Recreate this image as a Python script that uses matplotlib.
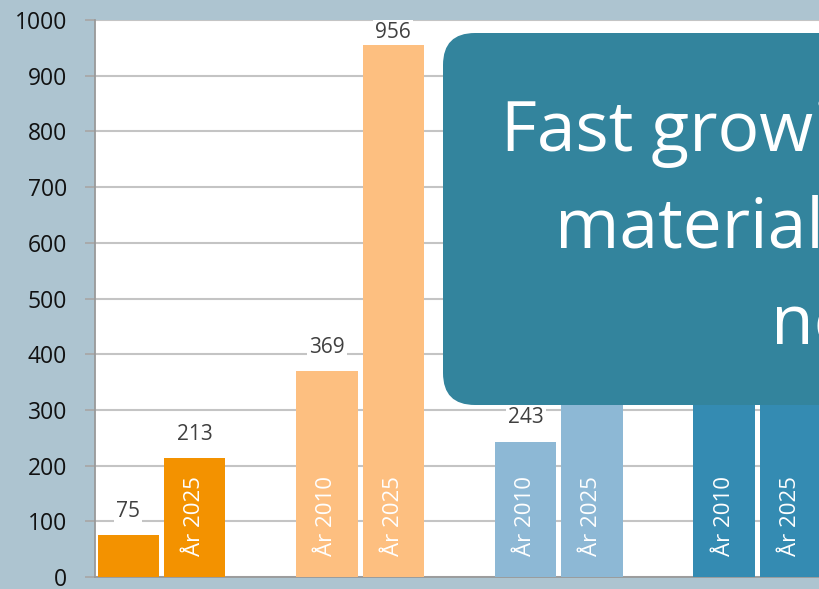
import numpy as np
import matplotlib.pyplot as plt
from matplotlib.patches import FancyBboxPatch

plt.rcParams['font.family'] = ['Open Sans', 'DejaVu Sans']

# data (last two groups are mostly hidden behind the callout box, estimated)
groups = ['Grupp 1', 'Grupp 2', 'Grupp 3', 'Grupp 4']
years = ['År 2010', 'År 2025']
values_2010 = [75, 369, 243, 430]
values_2025 = [213, 956, 560, 760]
group_colors = ['#f39200', '#fdbf80', '#8db8d5', '#348bb2']
yticks = [0, 100, 200, 300, 400, 500, 600, 700, 800, 900, 1000]

callout_lines = ['Fast growing', 'materials', 'need']

BG = '#adc4d0'

fig = plt.figure(figsize=(8.19, 5.89), dpi=100, facecolor=BG)
ax = fig.add_axes([95/819, 12/589, 1 - 95/819, 557/589])
ax.set_facecolor('white')

x = np.arange(len(groups))
w = 0.31
off = 0.167
for vals, sgn, yr in [(values_2010, -1, years[0]), (values_2025, 1, years[1])]:
    bars = ax.bar(x + sgn*off, vals, width=w, color=group_colors, zorder=3)
    for xi, v in zip(x + sgn*off, vals):
        ax.text(xi, min(v + 43, 978), str(v), ha='center', va='center',
                fontsize=15, color='#404040', zorder=4,
                bbox=dict(facecolor='white', edgecolor='none', pad=1.5))
        if v > 180:
            ax.text(xi, 38, yr, rotation=90, ha='center', va='bottom',
                    fontsize=16, color='white', zorder=4)

ax.set_ylim(0, 1000)
ax.set_xlim(-0.335, 3.31)
ax.set_yticks(yticks)
ax.set_xticks([])
ax.grid(axis='y', color='#c4c4c4', linewidth=1.5, zorder=0)
ax.tick_params(axis='y', direction='out', length=7, width=1.3, color='#a8a8a8',
               labelsize=16.5, labelcolor='#111111', pad=13)
for s in ['top', 'right']:
    ax.spines[s].set_visible(False)
for s in ['left', 'bottom']:
    ax.spines[s].set_color('#999999')
    ax.spines[s].set_linewidth(1.3)

# callout box on top
box = FancyBboxPatch((4.43, 1.84), 5.2, 3.72,
                     boxstyle='round,pad=0,rounding_size=0.32',
                     transform=fig.dpi_scale_trans, facecolor='#33849d',
                     edgecolor='none', zorder=10)
fig.patches.append(box)
line_x = [5.01, 5.55, 7.71]
line_base = [5.89 - 1.51, 5.89 - 2.47, 5.89 - 3.43]
for t, lx, ly in zip(callout_lines, line_x, line_base):
    fig.text(lx, ly, t, transform=fig.dpi_scale_trans, fontsize=50,
             color='white', ha='left', va='baseline', zorder=11)

fig.savefig('out.png', dpi=100, facecolor=BG)
